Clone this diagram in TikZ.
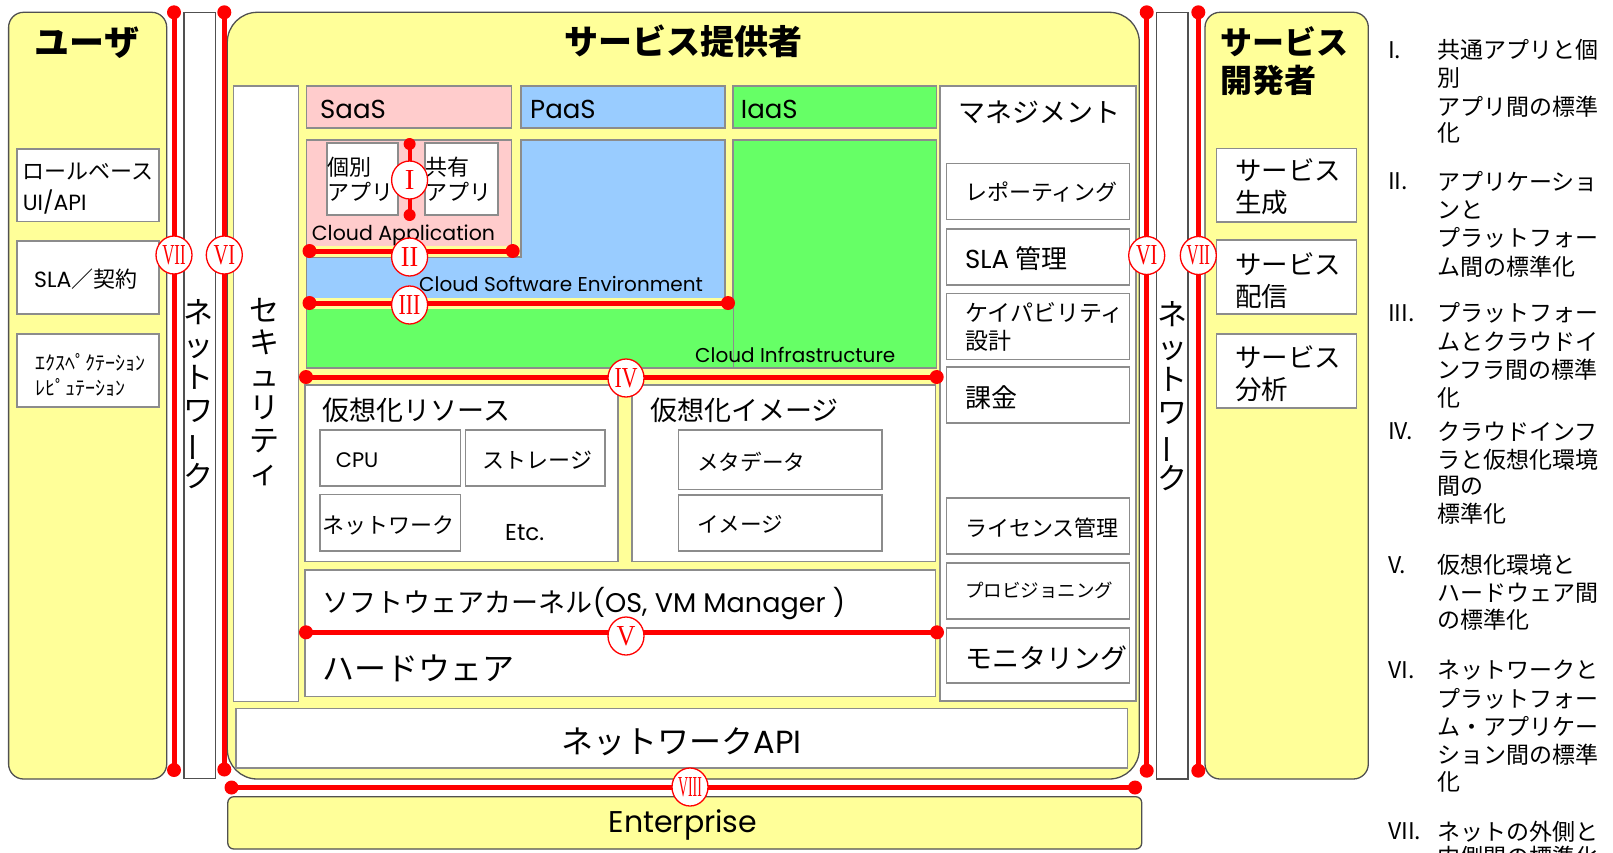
\documentclass[tikz,border=0pt]{standalone}
\usepackage{fontspec}
\usepackage{graphicx}
\setmainfont{Noto Sans CJK JP}
\newfontfamily\lat{Poppins}
\newfontfamily\rom{Liberation Serif}
\usetikzlibrary{shapes.geometric}
\definecolor{yel}{HTML}{FFFF99}
\definecolor{pnk}{HTML}{FFCCCC}
\definecolor{blu}{HTML}{99CCFF}
\definecolor{grn}{HTML}{66FF66}
\definecolor{dkg}{HTML}{505050}
\definecolor{mdg}{HTML}{8C8C8C}
\definecolor{rd}{HTML}{FF0000}
\newcommand\fsz[1]{\fontsize{#1}{#1}\selectfont}
\newcommand\vbar{\rotatebox[origin=c]{90}{ー}}
\newcommand\rn[2]{\scalebox{#1}[1]{\rom #2}}
\begin{document}
\begin{tikzpicture}[x=1pt,y=-1pt,
  ybox/.style={fill=yel, draw=dkg, line width=1.3pt},
  wbox/.style={fill=white, draw=mdg, line width=1.5pt},
  colbox/.style={fill=white, draw=dkg, line width=1.3pt},
  lab/.style={inner sep=0pt, anchor=west},
  ctr/.style={inner sep=0pt, anchor=center},
  vtxt/.style={inner sep=0pt, align=center, font=\fontsize{30}{32.5}\selectfont},
  rline/.style={draw=rd, line width=5pt},
  yline/.style={draw=yel, line width=11pt},
  dot/.style={circle, fill=rd, inner sep=0pt, minimum size=14pt},
  sdot/.style={circle, fill=rd, inner sep=0pt, minimum size=12pt},
  num/.style={ellipse, draw=rd, line width=1.3pt, fill=white, text=rd, inner sep=0pt,
              minimum width=36pt, minimum height=38pt, font=\fsz{29}},
  leg/.style={inner sep=0pt, anchor=west, font=\fsz{23}}
]
\useasboundingbox (0,0) rectangle (1613,852);
\clip (0,0) rectangle (1613,852);

% ---------- outer columns ----------
\draw[ybox, rounded corners=15pt] (8.6,12.3) rectangle (166.7,779);
\draw[colbox] (184,12.3) rectangle (215.3,778.5);
\draw[ybox, rounded corners=30pt] (227.3,12.3) rectangle (1139.3,779);
\draw[colbox] (1156.7,12.3) rectangle (1188,779);
\draw[ybox, rounded corners=15pt] (1205,12.3) rectangle (1368.3,779);
\draw[ybox, rounded corners=6pt] (227.8,796.7) rectangle (1141.7,849);

% titles
\node[ctr, font=\fsz{35}\bfseries] (tuser) at (87,43) {ユーザ};
\node[ctr, font=\fsz{34}\bfseries] (tprov) at (683,41) {サービス提供者};
\node[lab, font=\fsz{32}\bfseries] (tdev1) at (1220,41.7) {サービス};
\node[lab, font=\fsz{32}\bfseries] (tdev2) at (1220,80) {開発者};

% user boxes
\draw[wbox] (17,149) rectangle (159,221.7);
\draw[wbox] (17,241) rectangle (159,314);
\draw[wbox] (17,334) rectangle (159,407);
\node[lab, font=\fsz{22}] (u1a) at (22.6,172) {ロールベース};
\node[lab, font=\fsz{22}\lat] (u1b) at (22.6,201.6) {UI/API};
\node[lab, font=\fsz{22}] (u2) at (34,279) {{\lat SLA}／契約};
\node[lab, font=\fsz{20}] (u3a) at (35,362) {ｴｸｽﾍﾟｸﾃｰｼｮﾝ};
\node[lab, font=\fsz{20}] (u3b) at (35,387) {ﾚﾋﾟｭﾃｰｼｮﾝ};

% developer boxes
\draw[wbox] (1216.7,148.6) rectangle (1356.7,222);
\draw[wbox] (1216.7,240) rectangle (1356.7,314);
\draw[wbox] (1216.7,334) rectangle (1356.7,408);
\node[lab, font=\fsz{26.5}] (s1a) at (1235,170.6) {サービス};
\node[lab, font=\fsz{26.5}] (s1b) at (1235,203) {生成};
\node[lab, font=\fsz{26.5}] (s2a) at (1235,263.7) {サービス};
\node[lab, font=\fsz{26.5}] (s2b) at (1235,296) {配信};
\node[lab, font=\fsz{26.5}] (s3a) at (1235,357.5) {サービス};
\node[lab, font=\fsz{26.5}] (s3b) at (1235,389) {分析};

% vertical texts
\node[vtxt] (netl) at (198,394) {ネ\\ッ\\ト\\ワ\\\vbar\\ク};
\node[vtxt] (netr) at (1172,396) {ネ\\ッ\\ト\\ワ\\\vbar\\ク};

% ---------- provider inside ----------
\draw[wbox] (233.5,86) rectangle (298.3,701.7);
\node[vtxt] (sec) at (264.5,392) {セ\\キ\\ュ\\リ\\テ\\ィ};

\draw[wbox, fill=pnk] (306.5,86) rectangle (511.5,128);
\draw[wbox, fill=blu] (521,86) rectangle (725,128);
\draw[wbox, fill=grn] (733,86) rectangle (936.6,128);
\node[lab, font=\fsz{26}\lat] (saas) at (320,109) {SaaS};
\node[lab, font=\fsz{26}\lat] (paas) at (530,109) {PaaS};
\node[lab, font=\fsz{26}\lat] (iaas) at (740.7,109) {IaaS};

% layered areas
\draw[wbox, fill=grn] (306.5,308) -- (733,308) -- (733,140) -- (936.6,140) -- (936.6,368) -- (306.5,368) -- cycle;
\draw[mdg, line width=1pt] (733,308) -- (733,368);
\draw[wbox, fill=blu] (306.5,257) -- (521,257) -- (521,140) -- (725,140) -- (725,300) -- (306.5,300) -- cycle;
\draw[wbox, fill=pnk] (306.5,140) rectangle (511.5,253);
\draw[wbox] (327,143) rectangle (398,215);
\draw[wbox] (425,143) rectangle (498,215);
\node[lab, font=\fsz{22}] (ko1) at (327,167) {個別};
\node[lab, font=\fsz{22}] (ko2) at (327,191.7) {アプリ};
\node[lab, font=\fsz{22}] (ky1) at (425,167) {共有};
\node[lab, font=\fsz{22}] (ky2) at (425,191.7) {アプリ};
\node[lab, font=\fsz{20.5}\lat] (capp) at (311.7,235) {Cloud Application};
\node[lab, font=\fsz{20}\lat] (csw) at (419,284) {Cloud Software Environment};
\node[lab, font=\fsz{20}\lat] (cinf) at (695,355) {Cloud Infrastructure};

% virtualisation
\draw[wbox] (305,385) rectangle (618,561.7);
\draw[wbox] (632,385) rectangle (935.7,561.7);
\node[lab, font=\fsz{27}] (vres) at (322.7,410) {仮想化リソース};
\draw[wbox] (320,430) rectangle (460.5,486);
\draw[wbox] (465.4,430) rectangle (605,486);
\draw[wbox] (320,494.3) rectangle (460.5,551);
\node[lab, font=\fsz{21}\lat] (cpu) at (335.6,460) {CPU};
\node[lab, font=\fsz{22}] (stor) at (482.5,460) {ストレージ};
\node[lab, font=\fsz{22}] (netw) at (322.7,525) {ネットワーク};
\node[lab, font=\fsz{23}\lat] (etc) at (505,532.7) {Etc.};
\node[lab, font=\fsz{27}] (vimg) at (650,410) {仮想化イメージ};
\draw[wbox] (678.5,430) rectangle (881.8,489.3);
\draw[wbox] (678.5,495) rectangle (881.8,551);
\node[lab, font=\fsz{21.6}] (meta) at (697,461.7) {メタデータ};
\node[lab, font=\fsz{21.6}] (img) at (697,524.3) {イメージ};

% kernel / hardware
\draw[wbox] (305,570) rectangle (935.7,696.7);
\node[lab, font=\fsz{27}] (kern) at (322.7,604) {ソフトウェアカーネル{\lat (OS, VM Manager )}};
\node[lab, font=\fsz{32}] (hw) at (322.7,668.3) {ハードウェア};

% management
\draw[wbox] (940,86) rectangle (1136,701);
\node[ctr, font=\fsz{27}] (mgmt) at (1039,112.7) {マネジメント};
\draw[wbox] (946.7,163.7) rectangle (1129.3,219.6);
\draw[wbox] (946.7,229) rectangle (1129.3,285);
\draw[wbox] (946.7,293.5) rectangle (1129.3,359.6);
\draw[wbox] (946.7,367) rectangle (1129.3,423);
\draw[wbox] (946.7,498) rectangle (1129.3,554);
\draw[wbox] (946.7,563) rectangle (1129.3,619);
\draw[wbox] (946.7,627.8) rectangle (1129.3,683);
\node[lab, font=\fsz{22}] (m1) at (965,192) {レポーティング};
\node[lab, font=\fsz{26}] (m2) at (965,258.4) {{\lat SLA} 管理};
\node[lab, font=\fsz{23}] (m3a) at (965,312.7) {ケイパビリティ};
\node[lab, font=\fsz{23}] (m3b) at (965,341) {設計};
\node[lab, font=\fsz{26}] (m4) at (965,397.6) {課金};
\node[lab, font=\fsz{22}] (m5) at (965,528) {ライセンス管理};
\node[lab, font=\fsz{18.5}] (m6) at (965,590) {プロビジョニング};
\node[lab, font=\fsz{27}] (m7) at (965,657.6) {モニタリング};

% network API & enterprise
\draw[wbox] (235.8,708.5) rectangle (1127.5,768);
\node[ctr, font=\fsz{32}] (napi) at (681.5,741.7) {ネットワーク{\lat API}};
\node[ctr, font=\fsz{30}\lat] (ent) at (683,825) {Enterprise};

% ---------- standardisation lines ----------
\coordinate (a7t) at (174,12.3);   \coordinate (a7b) at (174,770);
\coordinate (a6t) at (224.3,12.3); \coordinate (a6b) at (224.3,769.5);
\coordinate (b6t) at (1146.7,12.3); \coordinate (b6b) at (1146.7,770.7);
\coordinate (b7t) at (1198.3,12.3); \coordinate (b7b) at (1198.3,770.7);
\coordinate (l8a) at (231.5,787.5); \coordinate (l8b) at (1135,787.5);
\coordinate (l1a) at (409.6,144);  \coordinate (l1b) at (409.6,215);
\coordinate (l2a) at (309.5,251);  \coordinate (l2b) at (512.7,251);
\coordinate (l3a) at (309.5,303);  \coordinate (l3b) at (728,303);
\coordinate (l4a) at (306,377);    \coordinate (l4b) at (936.7,377);
\coordinate (l5a) at (306,632.3);  \coordinate (l5b) at (937,632.3);

\draw[yline] (l2a) -- (l2b);
\draw[yline] (l3a) -- (l3b);
\draw[yline] (l4a) -- (l4b);
\foreach \p/\q in {a7t/a7b, a6t/a6b, b6t/b6b, b7t/b7b, l8a/l8b, l2a/l2b, l3a/l3b, l4a/l4b, l5a/l5b}
  \draw[rline] (\p) -- (\q);
\draw[draw=rd, line width=4pt] (l1a) -- (l1b);
\foreach \p in {a7t,a7b,a6t,a6b,b6t,b6b,b7t,b7b,l8a,l8b,l2a,l2b,l3a,l3b,l4a,l4b,l5a,l5b}
  \node[dot] at (\p) {};
\node[sdot] at (l1a) {};
\node[sdot] at (l1b) {};

\node[num] (n1) at (409.6,180) {\rn{1}{I}};
\node[num] (n2) at (409.6,257) {\rn{0.9}{II}};
\node[num] (n3) at (409.6,305) {\rn{0.75}{III}};
\node[num] (n4) at (626,378) {\rn{0.75}{IV}};
\node[num] (n5) at (626,636) {\rn{0.9}{V}};
\node[num] (n6l) at (224.3,255) {\rn{0.7}{VI}};
\node[num] (n7l) at (174,255) {\rn{0.58}{VII}};
\node[num] (n6r) at (1146.7,255.5) {\rn{0.7}{VI}};
\node[num] (n7r) at (1198.3,255.5) {\rn{0.58}{VII}};
\node[num] (n8) at (690,787) {\rn{0.48}{VIII}};

% ---------- legend ----------
\foreach \yy/\nn [count=\i] in {50/I., 181.7/II., 313/III., 431.7/IV., 565/V., 670/VI., 831.7/VII.}
  \node[leg] (ln\i) at (1388,\yy) {\nn};
\foreach \yy/\tt [count=\i] in {
  50/共通アプリと個, 78/別, 106.7/アプリ間の標準, 133/化,
  181.7/アプリケーショ, 210/ンと, 238/プラットフォー, 266.7/ム間の標準化,
  313/プラットフォー, 341.7/ムとクラウドイ, 370/ンフラ間の標準, 398.3/化,
  431.7/クラウドインフ, 460/ラと仮想化環境, 486.7/間の, 513.3/標準化,
  565/仮想化環境と, 593.3/ハードウェア間, 620/の標準化,
  670/ネットワークと, 698.3/プラットフォー, 726.7/ム・アプリケー, 755/ション間の標準, 781.7/化,
  831.7/ネットの外側と, 856.7/内側間の標準化}
  \node[leg] (lt\i) at (1437,\yy) {\tt};
\end{tikzpicture}
\end{document}
